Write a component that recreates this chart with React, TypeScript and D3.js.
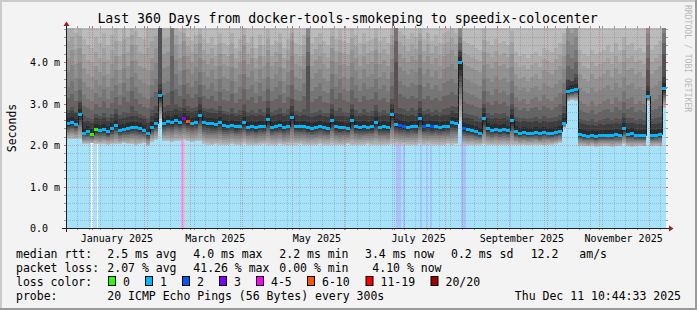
import React from "react";
import * as d3 from "d3";

const title = "Last 360 Days from docker-tools-smokeping to speedix-colocenter";
const startIso = "2024-12-16T10:44:33Z";
const endIso = "2025-12-11T10:44:33Z";
const yMaxMs = 4.82;
const yMajorTicks = [0, 1, 2, 3, 4];
const yTickLabels = ["0.0  ", "1.0 m", "2.0 m", "3.0 m", "4.0 m"];
const yAxisTitle = "Seconds";
const watermark = "RRDTOOL / TOBI OETIKER";

// median rtt per column (ms)
const medianRtt = [
  2.52, 2.55, 2.5, 2.75, 2.3, 2.33, 2.27, 2.38, 2.36, 2.38,
  2.33, 2.4, 2.48, 2.36, 2.39, 2.41, 2.43, 2.44, 2.4, 2.36,
  2.28, 2.44, 2.52, 3.2, 2.54, 2.57, 2.55, 2.6, 2.56, 2.64,
  2.57, 2.54, 2.56, 2.73, 2.55, 2.53, 2.52, 2.5, 2.56, 2.48,
  2.47, 2.49, 2.45, 2.47, 2.55, 2.44, 2.46, 2.43, 2.47, 2.45,
  2.62, 2.44, 2.46, 2.48, 2.44, 2.47, 2.67, 2.46, 2.45, 2.47,
  2.43, 2.41, 2.44, 2.46, 2.44, 2.42, 2.6, 2.45, 2.43, 2.44,
  2.42, 2.6, 2.45, 2.43, 2.46, 2.44, 2.45, 2.56, 2.44, 2.46,
  2.43, 2.74, 2.5, 2.48, 2.46, 2.44, 2.47, 2.45, 2.64, 2.46,
  2.48, 2.45, 2.47, 2.44, 2.46, 2.47, 2.55, 2.52, 3.99, 2.4,
  2.38, 2.36, 2.33, 2.29, 2.64, 2.4, 2.37, 2.39, 2.36, 2.38,
  2.35, 2.6, 2.33, 2.3, 2.31, 2.29, 2.3, 2.31, 2.28, 2.32,
  2.3, 2.29, 2.31, 2.34, 2.52, 3.3, 3.32, 3.35, 2.26, 2.24,
  2.22, 2.23, 2.21, 2.24, 2.23, 2.25, 2.24, 2.26, 2.25, 2.4,
  2.27, 2.28, 2.25, 2.24, 2.23, 3.17, 2.24, 2.25, 2.27, 3.38,
];

// lowest ping per column (ms)
const smokeMin = [
  2.15, 2.15, 2.14, 2.15, 2.03, 2.02, 2.04, 2.03, 2.02, 2.03,
  2.01, 2.02, 2.03, 2.02, 2.04, 2.02, 2.03, 2.01, 2.02, 2.06,
  1.98, 2.08, 2.12, 2.62, 2.09, 2.1, 2.08, 2.1, 2.09, 2.11,
  2.09, 2.08, 2.1, 2.09, 2.03, 2.01, 2.0, 2.02, 2.01, 1.99,
  2.0, 2.02, 2.01, 2.0, 2.03, 2.01, 2.0, 1.99, 2.01, 2.02,
  2.0, 2.01, 2.0, 2.02, 1.99, 2.01, 2.0, 2.01, 2.02, 2.0,
  1.99, 2.01, 2.0, 2.02, 2.01, 2.0, 2.01, 2.0, 1.99, 2.01,
  2.02, 2.0, 2.01, 2.0, 1.99, 2.02, 2.01, 2.0, 2.01, 1.99,
  2.0, 2.02, 2.01, 2.0, 2.01, 2.0, 1.99, 2.01, 2.02, 2.0,
  2.01, 2.0, 1.99, 2.01, 2.0, 2.02, 2.01, 2.03, 2.6, 2.0,
  1.99, 2.01, 2.0, 2.01, 2.02, 2.0, 1.99, 2.01, 2.0, 2.01,
  2.0, 1.99, 2.01, 2.0, 2.01, 1.99, 2.0, 2.01, 2.0, 1.99,
  2.01, 2.0, 2.02, 2.05, 2.42, 3.05, 3.08, 3.06, 1.98, 1.97,
  1.97, 1.98, 1.96, 1.97, 1.98, 1.97, 1.96, 1.97, 1.98, 2.02,
  1.97, 1.96, 1.97, 1.98, 1.97, 3.05, 1.97, 1.98, 1.97, 2.88,
];

// smoke band tops (ms): inner (dark) to outer (light)
const smokeUpper1 = [
  2.85, 2.92, 2.8, 3.05, 2.7, 2.66, 2.62, 2.75, 2.7, 2.78,
  2.68, 2.74, 2.86, 2.72, 2.8, 2.76, 2.95, 2.82, 2.74, 2.7,
  2.66, 2.85, 2.95, 5.0, 2.92, 2.96, 3.3, 3.0, 2.92, 3.1,
  2.95, 2.88, 2.92, 3.15, 2.9, 2.86, 2.88, 2.84, 2.94, 2.82,
  2.8, 2.9, 2.78, 2.84, 3.0, 2.8, 2.85, 2.78, 2.86, 2.8,
  3.05, 2.8, 2.84, 2.88, 2.78, 2.86, 3.1, 2.82, 2.8, 2.86,
  3.9, 2.76, 2.8, 2.84, 2.78, 2.76, 3.0, 2.82, 2.9, 2.8,
  2.76, 3.0, 2.84, 2.78, 2.86, 2.8, 2.82, 2.96, 2.8, 2.84,
  2.78, 3.1, 4.0, 2.9, 2.86, 2.82, 2.88, 2.84, 3.05, 2.82,
  2.86, 2.8, 2.84, 2.8, 2.86, 2.88, 2.95, 2.92, 4.3, 2.78,
  2.74, 2.72, 2.7, 2.66, 3.0, 2.76, 2.72, 2.78, 2.74, 2.76,
  2.7, 2.98, 2.68, 2.64, 2.66, 2.62, 2.66, 2.68, 2.62, 2.7,
  2.66, 2.64, 2.68, 2.72, 2.95, 3.6, 3.55, 3.7, 2.62, 2.6,
  2.58, 2.62, 2.56, 2.6, 2.62, 2.64, 2.6, 2.66, 2.62, 2.78,
  2.64, 2.66, 2.6, 2.62, 2.6, 3.8, 2.62, 2.64, 2.68, 4.2,
];
const smokeUpper2 = [
  3.4, 3.55, 3.3, 3.6, 3.2, 3.1, 3.05, 3.25, 3.15, 3.35,
  3.1, 3.3, 3.45, 3.2, 3.5, 3.3, 3.65, 3.4, 3.25, 3.15,
  3.1, 3.45, 3.6, 5.0, 3.5, 3.55, 5.0, 3.7, 3.45, 3.8,
  3.5, 3.4, 3.55, 3.75, 3.45, 3.35, 3.5, 3.3, 3.6, 3.35,
  3.3, 3.55, 3.25, 3.4, 3.7, 3.35, 3.45, 3.25, 3.5, 3.3,
  3.65, 3.3, 3.4, 3.55, 3.25, 3.45, 3.8, 3.35, 3.3, 3.5,
  4.6, 3.3, 3.4, 3.5, 3.3, 3.25, 3.7, 3.4, 3.6, 3.35,
  3.3, 3.65, 3.45, 3.3, 3.5, 3.35, 3.4, 3.6, 3.35, 3.45,
  3.3, 3.75, 5.0, 3.55, 3.45, 3.4, 3.5, 3.45, 3.85, 3.4,
  3.5, 3.35, 3.45, 3.3, 3.5, 3.55, 3.6, 3.5, 4.6, 3.3,
  3.25, 3.2, 3.15, 3.1, 3.6, 3.3, 3.2, 3.35, 3.25, 3.3,
  3.2, 3.55, 3.15, 3.05, 3.1, 3.0, 3.1, 3.15, 3.05, 3.2,
  3.1, 3.05, 3.15, 3.25, 3.5, 4.2, 4.1, 4.3, 3.05, 3.0,
  2.95, 3.05, 2.95, 3.0, 3.05, 3.1, 3.0, 3.15, 3.05, 3.3,
  3.1, 3.15, 3.0, 3.05, 3.0, 4.4, 3.05, 3.1, 3.2, 4.7,
];
const smokeUpper3 = [
  4.1, 4.3, 3.95, 4.35, 3.85, 3.7, 3.65, 3.9, 3.75, 4.0,
  3.7, 3.95, 4.15, 3.8, 4.2, 3.9, 4.4, 4.05, 3.9, 3.85,
  3.8, 4.1, 4.35, 5.0, 4.2, 4.25, 5.0, 4.4, 4.1, 4.5,
  4.15, 4.0, 4.2, 4.45, 4.05, 3.95, 4.1, 3.9, 4.2, 3.95,
  3.9, 4.2, 3.85, 4.0, 4.4, 3.95, 4.1, 3.85, 4.15, 3.9,
  4.3, 3.9, 4.0, 4.2, 3.85, 4.05, 4.5, 3.95, 3.9, 4.15,
  5.0, 3.9, 4.05, 4.15, 3.95, 3.85, 4.35, 4.0, 4.25, 3.95,
  3.9, 4.3, 4.1, 3.9, 4.15, 3.95, 4.0, 4.3, 3.95, 4.05,
  3.9, 4.4, 5.0, 4.2, 4.1, 4.0, 4.15, 4.05, 4.5, 4.0,
  4.15, 3.95, 4.1, 3.9, 4.15, 4.2, 4.3, 4.15, 5.0, 3.95,
  3.9, 3.85, 3.8, 3.75, 4.25, 3.95, 3.85, 4.0, 3.9, 3.95,
  3.85, 4.2, 3.7, 3.6, 3.65, 3.55, 3.65, 3.7, 3.6, 3.8,
  3.75, 3.7, 3.8, 3.9, 4.15, 4.8, 4.7, 4.9, 3.7, 3.6,
  3.55, 3.7, 3.6, 3.65, 3.7, 3.8, 3.65, 3.85, 3.7, 4.0,
  3.8, 3.85, 3.7, 3.75, 3.65, 5.0, 3.7, 3.8, 3.9, 5.0,
];
const smokeUpper4 = [
  4.9, 4.9, 4.7, 4.9, 4.55, 4.4, 4.35, 4.6, 4.45, 4.7,
  4.4, 4.65, 4.85, 4.5, 4.9, 4.6, 4.9, 4.75, 4.6, 4.55,
  4.9, 4.9, 4.9, 5.0, 4.9, 4.9, 5.0, 4.9, 4.75, 4.9,
  4.6, 4.5, 4.65, 4.9, 4.55, 4.45, 4.6, 4.4, 4.7, 4.45,
  4.4, 4.7, 4.35, 4.55, 4.9, 4.45, 4.6, 4.35, 4.65, 4.4,
  4.8, 4.4, 4.5, 4.7, 4.35, 4.55, 4.9, 4.45, 4.4, 4.65,
  5.0, 4.45, 4.6, 4.7, 4.5, 4.4, 4.9, 4.55, 4.8, 4.5,
  4.45, 4.85, 4.65, 4.45, 4.7, 4.5, 4.55, 4.85, 4.5, 4.6,
  4.45, 4.9, 5.0, 4.75, 4.65, 4.55, 4.7, 4.6, 4.9, 4.55,
  4.7, 4.5, 4.65, 4.45, 4.7, 4.75, 4.85, 4.7, 5.0, 4.5,
  4.45, 4.4, 4.35, 4.3, 4.8, 4.5, 4.4, 4.55, 4.45, 4.5,
  4.4, 4.75, 4.25, 4.15, 4.2, 4.1, 4.2, 4.25, 4.15, 4.35,
  4.3, 4.25, 4.35, 4.45, 4.7, 5.0, 5.0, 5.0, 4.3, 4.2,
  4.15, 4.3, 4.2, 4.25, 4.3, 4.4, 4.25, 4.45, 4.3, 4.6,
  4.4, 4.45, 4.3, 4.35, 4.25, 5.0, 4.3, 4.4, 4.5, 5.0,
];

const lossBucketLabels = ["0", "1", "2", "3", "4-5", "6-10", "11-19", "20/20"];
const lossColors = ["#26ff00", "#00b8ff", "#0059ff", "#7e00ff", "#ff00ff", "#ff5500", "#ff0000", "#a10000"];
const lossBgColors = ["#ffffff", "#a6e3fb", "#a9c1fd", "#c8a8fb", "#eea6ee", "#f9beb0", "#f7a8a8", "#d9a6a6"];
const defaultLossBucket = 1;

// periods whose loss differs from the default bucket
const lossEventFrom = ["2024-12-31T13:00Z", "2025-01-03T22:00Z", "2025-02-23T13:00Z", "2025-02-25T00:00Z", "2025-07-02T13:00Z", "2025-07-06T13:00Z", "2025-07-17T03:00Z", "2025-07-20T04:00Z", "2025-07-22T22:00Z", "2025-08-10T13:00Z", "2025-09-08T22:00Z"];
const lossEventTo = ["2025-01-01T13:00Z", "2025-01-04T22:00Z", "2025-02-25T00:00Z", "2025-02-26T00:00Z", "2025-07-05T13:00Z", "2025-07-07T17:00Z", "2025-07-17T18:00Z", "2025-07-21T00:00Z", "2025-07-23T22:00Z", "2025-08-13T04:00Z", "2025-09-09T13:00Z"];
const lossEventBucket = [0, 0, 4, 5, 2, 2, 2, 2, 2, 2, 2];

// columns whose median loss bucket differs from default
const medianLossColumn = [6, 7, 29, 30, 83, 84, 89, 91, 99];
const medianLossValue = [0, 0, 3, 5, 2, 2, 2, 2, 2];

const rttLabel = "median rtt:";
const rttStats = ["2.5 ms avg", "4.0 ms max", "2.2 ms min", "3.4 ms now", "0.2 ms sd", "12.2", "am/s"];
const lossLabel = "packet loss:";
const lossStats = ["2.07 % avg", "41.26 % max", "0.00 % min", "4.10 % now"];
const lossColorLabel = "loss color:";
const probeLabel = "probe:";
const probeText = "20 ICMP Echo Pings (56 Bytes) every 300s";
const stampText = "Thu Dec 11 10:44:33 2025";

const MONO = "'DejaVu Sans Mono', monospace";

export default function App() {
  const W = 697, H = 310;
  const X0 = 66, X1 = 666, Y0 = 228, Y1 = 28;
  const start = new Date(startIso);
  const end = new Date(endIso);
  const x = d3.scaleUtc().domain([start, end]).range([X0, X1]);
  const y = d3.scaleLinear().domain([0, yMaxMs]).range([Y0, Y1]);
  const n = medianRtt.length;
  const colT = d3.range(n + 1).map((i) => new Date(+start + ((+end - +start) * i) / n));
  const cy = (v: number) => y(Math.min(v, yMaxMs));

  const medLoss = medianRtt.map((_, i) => {
    const k = medianLossColumn.indexOf(i);
    return k >= 0 ? medianLossValue[k] : defaultLossBucket;
  });

  const shades = ["#bbbbbb", "#adadad", "#a0a0a0", "#929292", "#858585", "#767676", "#646464", "#515151", "#3d3d3d", "#2b2b2b"];
  const lowFrac = [0, 0.06, 0.16, 0.26, 0.36, 0.46, 0.56, 0.66, 0.76, 0.86];

  const smokeRects: any[] = [];
  for (let i = 0; i < n; i++) {
    const lo = smokeMin[i], md = medianRtt[i];
    const s1 = smokeUpper1[i], s2 = smokeUpper2[i], s3 = smokeUpper3[i], s4 = smokeUpper4[i];
    const tops = [yMaxMs, s4, (s4 + s3) / 2, s3, (s3 + s2) / 2, s2, (s2 + s1) / 2, s1, Math.min(s1, md + 0.26), Math.min(s1, md + 0.12)];
    const xa = x(colT[i]), xb = x(colT[i + 1]);
    tops.forEach((t, j) => {
      const b = lo + lowFrac[j] * (md - lo);
      const yt = cy(t), yb = cy(b);
      if (yb - yt > 0)
        smokeRects.push(
          <rect key={`s${i}-${j}`} x={xa} y={yt} width={xb - xa} height={yb - yt} fill={shades[j]} shapeRendering="crispEdges" />
        );
    });
  }

  const medPts: [Date, number][] = medianRtt.map((v, i) => [colT[i], v]);
  medPts.push([colT[n], medianRtt[n - 1]]);
  const medLine = d3
    .line<[Date, number]>()
    .x((d) => Math.round(x(d[0])) + 0.5)
    .y((d) => Math.round(y(d[1])) + 0.5)
    .curve(d3.curveStepAfter)(medPts);

  const px = (v: number) => Math.round(v) + 0.5;
  const minorY = d3.range(1, 25).filter((k) => k % 5 !== 0).map((k) => k * 0.2);
  const majorY = yMajorTicks.filter((v) => v > 0);
  const months = d3.utcMonth.range(start, end);
  const weeks = d3.utcMonday.range(start, end).filter((d) => +d3.utcMonth.floor(d) !== +d);
  const labelMonths = d3.utcMonth.every(2)!.range(start, end);
  const fmtMonth = d3.utcFormat("%B %Y");

  const gridMinor = "rgba(110,110,110,0.32)";
  const gridMajor = "rgba(240,40,40,0.34)";

  const statX = [107.3, 193.3, 279.3, 365, 451, 530.7, 579.3];
  const lossX = [107.3, 193.3, 279.3, 372.3];
  const boxX = [108.5, 145.5, 182.5, 219.5, 256.5, 307.5, 366, 431];

  return (
    <svg width={W} height={H} style={{ position: "fixed", left: 0, top: 0, display: "block" }} fontFamily={MONO}>
      <rect x={0} y={0} width={W} height={H} fill="#f3f3f3" />
      <rect x={0} y={0} width={W} height={2} fill="#cbcbcb" />
      <rect x={0} y={0} width={2} height={H} fill="#cbcbcb" />
      <rect x={0} y={H - 2} width={W} height={2} fill="#999999" />
      <rect x={W - 2} y={0} width={2} height={H} fill="#999999" />

      <text x={347.5} y={23} textAnchor="middle" fontSize={13.2} fill="#000">{title}</text>
      <text transform={`translate(685,5) rotate(90)`} fontSize={8.1} fill="#b8b8b8">{watermark}</text>

      <rect x={X0} y={Y1} width={X1 - X0} height={Y0 - Y1} fill="#ffffff" />
      <rect x={X0} y={Y1} width={X1 - X0} height={Y0 - Y1} fill={lossBgColors[defaultLossBucket]} />
      {lossEventFrom.map((f, k) => {
        const xa = x(new Date(f)), xb = x(new Date(lossEventTo[k]));
        return <rect key={`le${k}`} x={xa} y={Y1} width={xb - xa} height={Y0 - Y1} fill={lossBgColors[lossEventBucket[k]]} shapeRendering="crispEdges" />;
      })}

      {smokeRects}

      <path d={medLine || ""} fill="none" stroke="#1a1a1a" strokeWidth={1} />
      {medianRtt.map((v, i) => {
        const xa = x(colT[i]), xb = x(colT[i + 1]);
        return <rect key={`m${i}`} x={xa} y={Math.round(y(v)) - 1} width={xb - xa} height={3} fill={lossColors[medLoss[i]]} shapeRendering="crispEdges" />;
      })}

      {/* grid */}
      {minorY.map((v, k) => (
        <g key={`hy${k}`}>
          <line x1={X0} x2={X1} y1={px(y(v))} y2={px(y(v))} stroke={gridMinor} strokeDasharray="1 1" />
          <line x1={X0 - 2} x2={X0} y1={px(y(v))} y2={px(y(v))} stroke="#9a9a9a" />
          <line x1={X1} x2={X1 + 2} y1={px(y(v))} y2={px(y(v))} stroke="#9a9a9a" />
        </g>
      ))}
      {weeks.map((d, k) => (
        <g key={`wx${k}`}>
          <line x1={px(x(d))} x2={px(x(d))} y1={Y1} y2={Y0} stroke={gridMinor} strokeDasharray="1 1" />
          <line x1={px(x(d))} x2={px(x(d))} y1={Y0} y2={Y0 + 2} stroke="#9a9a9a" />
          <line x1={px(x(d))} x2={px(x(d))} y1={Y1 - 2} y2={Y1} stroke="#9a9a9a" />
        </g>
      ))}
      {majorY.map((v, k) => (
        <g key={`my${k}`}>
          <line x1={X0} x2={X1} y1={px(y(v))} y2={px(y(v))} stroke={gridMajor} strokeDasharray="1 1" />
          <line x1={X0 - 2} x2={X0} y1={px(y(v))} y2={px(y(v))} stroke="#d06060" />
          <line x1={X1} x2={X1 + 2} y1={px(y(v))} y2={px(y(v))} stroke="#d06060" />
        </g>
      ))}
      {months.map((d, k) => (
        <g key={`mx${k}`}>
          <line x1={px(x(d))} x2={px(x(d))} y1={Y1} y2={Y0} stroke={gridMajor} strokeDasharray="1 1" />
          <line x1={px(x(d))} x2={px(x(d))} y1={Y0} y2={Y0 + 2} stroke="#d06060" />
          <line x1={px(x(d))} x2={px(x(d))} y1={Y1 - 2} y2={Y1} stroke="#d06060" />
        </g>
      ))}

      {/* axes */}
      <line x1={X0 - 4} x2={X1 + 4} y1={Y0 + 0.5} y2={Y0 + 0.5} stroke="#202020" />
      <line x1={X0 + 0.5} x2={X0 + 0.5} y1={Y0 + 4} y2={Y1 - 4} stroke="#202020" />
      <path d={`M${X0 + 0.5},${Y1 - 6.5} L${X0 - 2.5},${Y1 - 2} L${X0 + 3.5},${Y1 - 2} Z`} fill="#9a2020" />
      <path d={`M${X1 + 7.5},${Y0 + 0.5} L${X1 + 3},${Y0 - 2.5} L${X1 + 3},${Y0 + 3.5} Z`} fill="#9a2020" />

      {yMajorTicks.map((v, k) => (
        <text key={`yl${k}`} x={60} y={px(y(v)) + 3.5} textAnchor="end" fontSize={10} fill="#000" style={{ whiteSpace: "pre" }}>
          {yTickLabels[k]}
        </text>
      ))}
      {labelMonths.map((d, k) => (
        <text key={`xl${k}`} x={x(d3.utcDay.offset(d, 15))} y={241.5} textAnchor="middle" fontSize={10} fill="#000">
          {fmtMonth(d)}
        </text>
      ))}
      <text transform="translate(15.5,128) rotate(-90)" textAnchor="middle" fontSize={11.5} fill="#000">{yAxisTitle}</text>

      {/* legend */}
      <g fontSize={11.5} fill="#000" style={{ whiteSpace: "pre" }}>
        <text x={16} y={258.3}>{rttLabel}</text>
        {rttStats.map((s, k) => (
          <text key={`rs${k}`} x={statX[k]} y={258.3}>{s}</text>
        ))}
        <text x={16} y={272.3}>{lossLabel}</text>
        {lossStats.map((s, k) => (
          <text key={`ls${k}`} x={lossX[k]} y={272.3}>{s}</text>
        ))}
        <text x={16} y={286}>{lossColorLabel}</text>
        {lossBucketLabels.map((s, k) => (
          <g key={`lb${k}`}>
            <rect x={boxX[k]} y={276.5} width={7} height={9} fill={lossColors[k]} stroke="#000" strokeWidth={1} />
            <text x={boxX[k] + 14.5} y={286}>{s}</text>
          </g>
        ))}
        <text x={16} y={300}>{probeLabel}</text>
        <text x={107.3} y={300}>{probeText}</text>
        <text x={681} y={300} textAnchor="end">{stampText}</text>
      </g>
    </svg>
  );
}
